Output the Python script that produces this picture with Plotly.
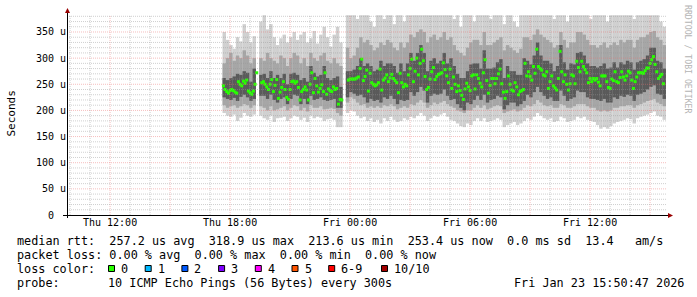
import plotly.graph_objects as go
import pandas as pd

N = None
# ---------------- data (microseconds) ----------------
# median RTT, one value per 5-minute step starting Thu 17:40
median_us = [
    247,240,236,233,238,240,238,235,233,255,
    250,247,256,252,258,237,234,231,237,250,
    272,N,N,253,255,250,245,240,250,259,
    236,248,259,223,235,244,255,240,225,221,
    240,255,256,252,255,244,220,236,240,245,
    239,220,250,272,234,261,247,235,242,249,
    236,272,231,241,238,236,245,240,242,212,
    221,220,N,N,N,258,260,260,260,260,
    262,264,280,298,257,265,277,237,271,253,
    250,247,249,253,279,239,258,262,268,255,
    262,269,261,257,253,234,271,253,245,250,
    247,268,280,298,255,275,300,268,290,317,
    295,265,240,244,260,274,282,259,265,269,
    270,272,291,278,266,253,279,242,264,250,
    236,247,238,229,221,241,252,245,238,266,
    268,241,268,261,252,245,272,297,257,233,
    248,261,261,251,261,270,279,251,235,223,
    236,266,250,239,237,253,245,230,236,238,
    240,290,266,274,265,258,284,271,317,284,
    280,277,268,266,274,242,255,266,247,243,
    239,261,313,274,255,268,250,239,251,268,
    266,251,294,282,274,294,284,278,272,253,
    261,255,261,258,261,254,247,266,266,266,
    255,244,242,260,257,274,255,253,263,274,
    264,258,266,275,272,258,242,255,264,272,
    272,272,271,276,281,281,290,297,303,288,
    274,261,265,269,251,
]

# smoke (ping spread), one value per 10-minute step starting Thu 17:40
smoke_lo = [
    195,190,188,192,180,186,195,190,188,192,
    N,190,185,182,190,178,185,186,188,180,
    185,190,188,182,186,178,190,185,188,186,
    180,183,185,182,168,168,N,195,200,198,
    190,185,188,180,185,178,182,175,185,180,
    188,182,178,180,185,182,188,185,190,195,
    190,180,185,190,188,192,195,188,182,180,
    175,170,168,175,172,180,185,180,185,178,
    180,182,185,182,168,172,175,178,172,175,
    180,185,182,188,195,190,185,182,185,178,
    180,188,185,178,180,182,188,185,188,182,
    180,178,172,165,168,165,170,175,178,180,
    182,185,183,175,185,188,190,192,195,198,
    190,188,182,
]
smoke_mlo = [
    210,205,208,210,205,208,212,210,205,210,
    N,208,205,200,208,200,202,205,208,200,
    205,210,208,200,205,198,210,205,205,208,
    202,203,205,203,195,190,N,215,225,222,
    215,210,212,205,208,205,208,205,210,208,
    212,208,202,205,208,205,212,210,215,220,
    215,205,210,215,212,215,218,212,208,205,
    200,198,195,200,200,205,210,205,210,202,
    205,208,210,208,195,198,200,202,198,200,
    205,210,208,212,220,215,210,208,210,205,
    205,212,210,205,205,208,212,212,212,208,
    205,205,200,198,200,198,200,205,205,208,
    208,210,210,205,210,212,215,218,220,222,
    215,212,208,
]
smoke_clo = [
    225,222,220,224,218,226,230,225,218,222,
    N,228,228,222,230,220,215,222,225,212,
    222,230,228,212,222,212,228,220,222,225,
    220,218,220,222,205,205,N,225,235,232,
    228,230,225,215,222,218,220,215,225,222,
    228,222,212,220,218,220,235,228,235,245,
    238,215,228,232,230,232,240,228,220,222,
    212,205,200,215,212,220,228,220,230,215,
    220,222,228,225,202,210,215,215,208,212,
    218,230,225,235,245,235,228,222,225,218,
    218,238,228,218,222,225,238,235,235,225,
    222,222,220,218,222,215,215,225,222,228,
    226,230,228,218,230,232,235,240,245,248,
    232,230,222,
]
smoke_chi = [
    262,258,262,265,270,268,275,272,255,280,
    N,268,270,262,275,262,268,262,270,250,
    270,272,268,258,262,255,285,272,265,268,
    285,262,258,262,265,245,N,275,275,278,
    285,300,285,290,285,275,278,295,285,290,
    290,285,272,290,275,290,310,295,310,325,
    310,275,295,300,290,295,310,290,300,285,
    270,262,262,275,288,290,290,280,315,280,
    280,282,292,298,262,285,275,275,268,268,
    300,295,288,305,330,305,295,295,290,275,
    285,325,292,278,290,288,310,312,305,290,
    285,285,282,285,290,280,282,292,282,292,
    288,295,292,278,292,295,298,305,320,320,
    295,292,280,
]
smoke_mhi = [
    290,300,310,295,305,300,315,305,290,300,
    N,300,295,310,300,295,290,305,300,285,
    300,310,305,290,300,285,310,300,295,305,
    310,295,290,300,290,285,N,320,300,305,
    320,340,330,335,325,315,320,330,325,335,
    330,320,315,330,320,330,345,340,350,355,
    350,330,340,345,335,340,350,335,340,325,
    315,310,305,320,330,335,335,325,350,325,
    325,330,335,340,315,325,320,315,310,318,
    340,340,335,345,355,345,340,335,330,320,
    325,350,335,320,330,330,350,350,345,335,
    325,325,320,325,330,320,325,330,325,335,
    330,335,335,320,335,340,340,345,350,352,
    340,335,325,
]
smoke_hi = [
    350,335,325,318,340,332,365,350,330,342,
    N,370,382,355,365,340,325,338,345,330,
    340,350,335,345,350,330,338,352,328,345,
    360,340,322,345,360,330,N,382,382,382,
    375,382,382,382,370,360,382,382,375,382,
    382,365,382,382,370,382,382,382,382,382,
    382,382,382,382,382,382,382,382,382,375,
    382,360,382,382,382,370,382,382,382,382,
    375,382,382,382,365,382,382,370,360,382,
    382,382,382,382,382,382,382,382,382,375,
    382,382,382,370,382,382,382,382,382,382,
    375,382,382,382,382,370,382,382,382,382,
    382,382,382,375,382,382,382,382,382,382,
    382,370,360,
]

y_tick_vals = [0, 50, 100, 150, 200, 250, 300, 350]
y_tick_text = ["0\u00a0\u00a0", "50 u", "100 u", "150 u", "200 u", "250 u", "300 u", "350 u"]
x_tick_vals = ["2026-01-22 12:00", "2026-01-22 15:00", "2026-01-22 18:00", "2026-01-22 21:00",
               "2026-01-23 00:00", "2026-01-23 03:00", "2026-01-23 06:00", "2026-01-23 09:00",
               "2026-01-23 12:00", "2026-01-23 15:00"]
x_tick_text = ["Thu 12:00", "", "Thu 18:00", "", "Fri 00:00", "", "Fri 06:00", "", "Fri 12:00", ""]

t_start = "2026-01-22 09:50:47"
t_end = "2026-01-23 15:50:47"

legend_line1 = "median rtt:  257.2 us avg  318.9 us max  213.6 us min  253.4 us now  0.0 ms sd  13.4   am/s"
legend_line2 = "packet loss: 0.00 % avg  0.00 % max  0.00 % min  0.00 % now"
legend_line3 = "loss color:"
loss_labels = ["0", "1", "2", "3", "4", "5", "6-9", "10/10"]
loss_colors = ["#26ff00", "#00b8ff", "#0059ff", "#7e00ff", "#ff00ff", "#ff5500", "#ff0000", "#a10000"]
probe_label = "probe:"
probe_text = "10 ICMP Echo Pings (56 Bytes) every 300s"
stamp_text = "Fri Jan 23 15:50:47 2026"

# ---------------- figure ----------------
W, H = 697, 297
L, R, T, B = 67, 30, 15, 82
PW, PH = W - L - R, H - T - B

def px2x(px):
    return (px - L) / PW

def py2y(py):
    return (T + PH - py) / PH

def nb(s):
    return s.replace(" ", "\u00a0")

med_times = pd.date_range("2026-01-22 17:40:00", periods=len(median_us), freq="5min")
smoke_times = pd.date_range("2026-01-22 17:42:30", periods=len(smoke_lo), freq="10min")

def band(lo, hi, color):
    xs, base, h = [], [], []
    for t, a, b in zip(smoke_times, lo, hi):
        if a is None or b is None:
            continue
        xs.append(t)
        base.append(a)
        h.append(b - a)
    return go.Bar(x=xs, y=h, base=base, width=10 * 60 * 1000 * 1.03,
                  marker=dict(color=color, line=dict(width=0)),
                  hoverinfo="skip", showlegend=False)

fig = go.Figure()
fig.add_trace(band(smoke_lo, smoke_hi, "#d0d0d0"))
fig.add_trace(band(smoke_mlo, smoke_mhi, "#a6a6a6"))
fig.add_trace(band(smoke_clo, smoke_chi, "#5a5a5a"))
fig.add_trace(go.Scatter(x=med_times, y=median_us, mode="markers",
                         marker=dict(symbol="square", size=3, color="#26ff00", line=dict(width=0)),
                         hoverinfo="skip", showlegend=False))

shapes = []
minor_c = "rgba(150,150,150,0.45)"
major_c = "rgba(235,110,110,0.45)"
for h in pd.date_range("2026-01-22 10:00", "2026-01-23 15:00", freq="1h"):
    c = major_c if h.hour % 3 == 0 else minor_c
    ts = h.strftime("%Y-%m-%d %H:%M:%S")
    shapes.append(dict(type="line", xref="x", yref="paper", x0=ts, x1=ts, y0=0, y1=1,
                       line=dict(color=c, width=1, dash="1px,1px"), layer="above"))
for v in range(10, 381, 10):
    c = major_c if v % 50 == 0 else minor_c
    shapes.append(dict(type="line", xref="paper", yref="y", x0=0, x1=1, y0=v, y1=v,
                       line=dict(color=c, width=1, dash="1px,1px"), layer="above"))
# axes lines and arrows
shapes.append(dict(type="line", xref="paper", yref="paper", x0=px2x(67.5), x1=px2x(67.5),
                   y0=py2y(218), y1=py2y(12), line=dict(color="black", width=1), layer="above"))
shapes.append(dict(type="line", xref="paper", yref="paper", x0=px2x(63), x1=px2x(669),
                   y0=py2y(215.5), y1=py2y(215.5), line=dict(color="black", width=1), layer="above"))
shapes.append(dict(type="path", xref="paper", yref="paper",
                   path="M %f %f L %f %f L %f %f Z" % (px2x(65), py2y(13), px2x(70), py2y(13), px2x(67.5), py2y(8)),
                   fillcolor="#990000", line=dict(color="#990000", width=0), layer="above"))
shapes.append(dict(type="path", xref="paper", yref="paper",
                   path="M %f %f L %f %f L %f %f Z" % (px2x(668), py2y(213), px2x(668), py2y(218), px2x(673), py2y(215.5)),
                   fillcolor="#990000", line=dict(color="#990000", width=0), layer="above"))

annotations = []
mono = "DejaVu Sans Mono"
LF = 11.8

def txt(s, px, py, size=LF, color="black", anchor="left", angle=0):
    annotations.append(dict(text=nb(s), x=px2x(px), y=py2y(py), xref="paper", yref="paper",
                            xanchor=anchor, yanchor="middle", showarrow=False, borderpad=0,
                            textangle=angle, font=dict(family=mono, size=size, color=color)))

txt(legend_line1, 16, 241)
txt(legend_line2, 16, 255)
txt(legend_line3, 16, 269)
sq_x = [108.5 + 36.7 * i for i in range(7)] + [381.5]
for xl, lab, col in zip(sq_x, loss_labels, loss_colors):
    shapes.append(dict(type="rect", xref="paper", yref="paper", x0=px2x(xl), x1=px2x(xl + 6),
                       y0=py2y(271.5), y1=py2y(265.5), fillcolor=col,
                       line=dict(color="black", width=1), layer="above"))
    txt(lab, xl + 11.5, 269)
txt(probe_label, 16, 283)
txt(probe_text, 107, 283)
txt(stamp_text, 513, 283)

annotations.append(dict(text="Seconds", x=px2x(11), y=py2y(113.5), xref="paper", yref="paper",
                        xanchor="center", yanchor="middle", showarrow=False, textangle=-90,
                        font=dict(family=mono, size=11, color="black")))
annotations.append(dict(text="RRDTOOL / TOBI OETIKER", x=px2x(688), y=py2y(59), xref="paper", yref="paper",
                        xanchor="center", yanchor="middle", showarrow=False, textangle=90,
                        font=dict(family=mono, size=8.2, color="#b4b4b4")))

fig.update_layout(
    width=W, height=H, margin=dict(l=L, r=R, t=T, b=B, pad=0),
    paper_bgcolor="white", plot_bgcolor="white",
    barmode="overlay", showlegend=False,
    shapes=shapes, annotations=annotations,
    xaxis=dict(type="date", range=[t_start, t_end], showgrid=False, zeroline=False, showline=False,
               tickvals=x_tick_vals, ticktext=x_tick_text, ticks="",
               tickfont=dict(family=mono, size=10, color="black"), fixedrange=True),
    yaxis=dict(range=[0, 382.5], showgrid=False, zeroline=False, showline=False,
               tickvals=y_tick_vals, ticktext=y_tick_text, ticks="",
               tickfont=dict(family=mono, size=10, color="black"), fixedrange=True),
)

fig.write_html("out.html", config={"displayModeBar": False})
